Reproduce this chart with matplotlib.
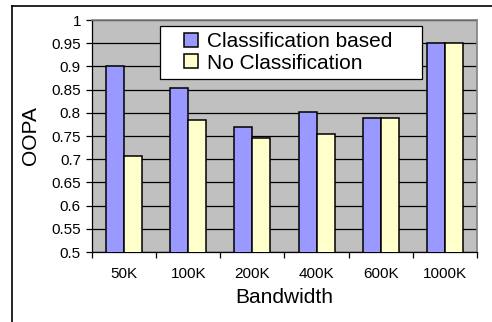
import numpy as np
import matplotlib.pyplot as plt
from matplotlib.lines import Line2D

plt.rcParams['font.family'] = ['Liberation Sans', 'DejaVu Sans']

categories = ["50K", "100K", "200K", "400K", "600K", "1000K"]
classBased = [0.900, 0.853, 0.770, 0.801, 0.788, 0.951]
noClass = [0.707, 0.784, 0.745, 0.754, 0.788, 0.951]
yTicks = [0.5, 0.55, 0.6, 0.65, 0.7, 0.75, 0.8, 0.85, 0.9, 0.95, 1]
yTickLabels = ["0.5", "0.55", "0.6", "0.65", "0.7", "0.75", "0.8", "0.85", "0.9", "0.95", "1"]

BLUE = '#9999FF'
YELLOW = '#FFFFCC'

fig = plt.figure(figsize=(4.92, 3.22), dpi=100)
ax = fig.add_axes([92 / 492, 1 - 252 / 322, 385 / 492, 232 / 322])
ax.set_facecolor('#C0C0C0')

x = np.arange(len(categories))
w = 0.28
ax.bar(x - w / 2, classBased, w, color=BLUE, edgecolor='black', linewidth=1.1, zorder=3)
ax.bar(x + w / 2, noClass, w, color=YELLOW, edgecolor='black', linewidth=1.1, zorder=3)

ax.set_ylim(0.5, 1)
ax.set_xlim(-0.5, len(categories) - 0.5)
ax.set_yticks(yTicks)
ax.set_yticklabels(yTickLabels)
ax.yaxis.grid(True, color='black', linewidth=0.9, zorder=1)
ax.set_axisbelow(True)

# ticks at category borders, labels centered
ax.set_xticks(np.arange(len(categories) + 1) - 0.5)
ax.set_xticklabels([])
ax.set_xticks(x, minor=True)
ax.set_xticklabels(categories, minor=True)
ax.tick_params(axis='x', which='minor', length=0, pad=11, labelsize=11)
ax.tick_params(axis='x', which='major', direction='out', length=4, width=0.9)
ax.tick_params(axis='y', direction='out', length=4, width=0.9, labelsize=11, pad=4)

for s in ['top', 'right']:
    ax.spines[s].set_color('#808080')
    ax.spines[s].set_linewidth(1.2)
for s in ['left', 'bottom']:
    ax.spines[s].set_color('black')
    ax.spines[s].set_linewidth(0.9)

ax.set_ylabel("OOPA", fontsize=15, labelpad=8)
ax.set_xlabel("Bandwidth", fontsize=15, labelpad=5)

handles = [
    Line2D([], [], linestyle='none', marker='s', markersize=10, markerfacecolor=BLUE,
           markeredgecolor='black', markeredgewidth=1.1),
    Line2D([], [], linestyle='none', marker='s', markersize=10, markerfacecolor=YELLOW,
           markeredgecolor='black', markeredgewidth=1.1),
]
leg = ax.legend(handles, ['Classification based', 'No Classification'],
                loc='upper left', bbox_to_anchor=(0.177, 0.734, 0.68, 0.240), mode='expand',
                fontsize=15, fancybox=False, frameon=True, edgecolor='black', framealpha=1,
                handlelength=2.4, handletextpad=-0.45, borderpad=0.3, labelspacing=0.12,
                borderaxespad=0)
leg.get_frame().set_linewidth(0.9)
leg.set_zorder(5)

# outer chart frame (top and left edges only visible)
fig.add_artist(Line2D([12 / 492, 1], [1 - 6 / 322, 1 - 6 / 322], color='black', linewidth=1.2))
fig.add_artist(Line2D([12 / 492, 12 / 492], [0, 1 - 6 / 322], color='black', linewidth=1.2))

fig.savefig("out.png", dpi=100)
